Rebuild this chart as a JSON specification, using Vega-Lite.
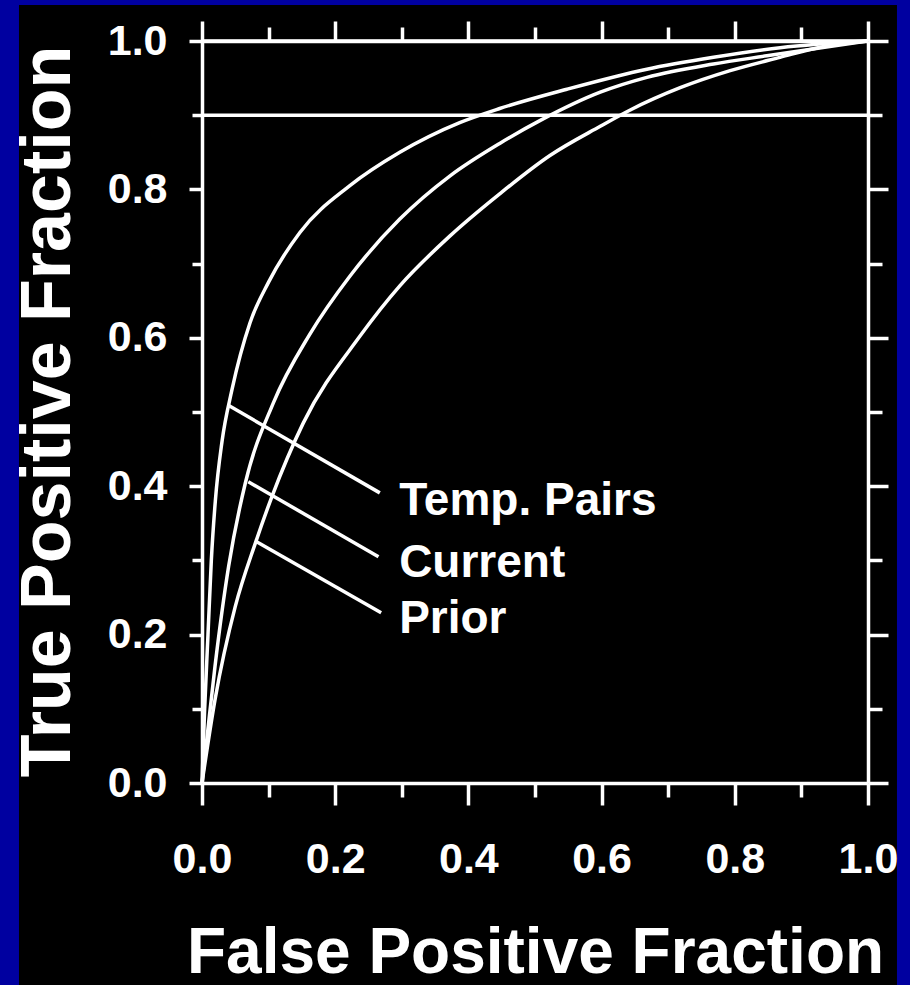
{
  "$schema": "https://vega.github.io/schema/vega-lite/v6.json",
  "width": 666,
  "height": 742,
  "autosize": {"type": "none"},
  "padding": {"left": 202, "top": 41, "right": 42, "bottom": 202},
  "background": "black",
  "config": {
    "view": {"stroke": null},
    "axis": {
      "zindex": 1,
      "domainColor": "white",
      "domainWidth": 3.5,
      "tickColor": "white",
      "tickWidth": 3.5,
      "grid": false,
      "labelColor": "white",
      "labelFont": "Liberation Sans",
      "labelFontWeight": "bold",
      "labelFontSize": 43,
      "labelOverlap": false,
      "labelFlush": false,
      "titleColor": "white",
      "titleFont": "Liberation Sans",
      "titleFontWeight": "bold"
    }
  },
  "datasets": {
    "border": [
      {"side": "left", "x0": -0.4, "x1": -0.2748, "y0": -0.4, "y1": 1.2},
      {"side": "right", "x0": 1.0435, "x1": 1.2, "y0": -0.4, "y1": 1.2},
      {"side": "top", "x0": -0.4, "x1": 1.2, "y0": 1.0485, "y1": 1.2}
    ],
    "curves": [
      {"series": "Temp. Pairs", "fpf": 0, "tpf": 0},
      {"series": "Temp. Pairs", "fpf": 0.004, "tpf": 0.1},
      {"series": "Temp. Pairs", "fpf": 0.009, "tpf": 0.2},
      {"series": "Temp. Pairs", "fpf": 0.014, "tpf": 0.3},
      {"series": "Temp. Pairs", "fpf": 0.02, "tpf": 0.38},
      {"series": "Temp. Pairs", "fpf": 0.03, "tpf": 0.46},
      {"series": "Temp. Pairs", "fpf": 0.045, "tpf": 0.53},
      {"series": "Temp. Pairs", "fpf": 0.072, "tpf": 0.62},
      {"series": "Temp. Pairs", "fpf": 0.1, "tpf": 0.675},
      {"series": "Temp. Pairs", "fpf": 0.147, "tpf": 0.742},
      {"series": "Temp. Pairs", "fpf": 0.222, "tpf": 0.805},
      {"series": "Temp. Pairs", "fpf": 0.297, "tpf": 0.85},
      {"series": "Temp. Pairs", "fpf": 0.387, "tpf": 0.89},
      {"series": "Temp. Pairs", "fpf": 0.447, "tpf": 0.909},
      {"series": "Temp. Pairs", "fpf": 0.548, "tpf": 0.935},
      {"series": "Temp. Pairs", "fpf": 0.668, "tpf": 0.962},
      {"series": "Temp. Pairs", "fpf": 0.768, "tpf": 0.978},
      {"series": "Temp. Pairs", "fpf": 0.868, "tpf": 0.991},
      {"series": "Temp. Pairs", "fpf": 1, "tpf": 1},
      {"series": "Current", "fpf": 0, "tpf": 0},
      {"series": "Current", "fpf": 0.008, "tpf": 0.065},
      {"series": "Current", "fpf": 0.0195, "tpf": 0.157},
      {"series": "Current", "fpf": 0.04, "tpf": 0.292},
      {"series": "Current", "fpf": 0.065, "tpf": 0.404},
      {"series": "Current", "fpf": 0.107, "tpf": 0.512},
      {"series": "Current", "fpf": 0.162, "tpf": 0.605},
      {"series": "Current", "fpf": 0.222, "tpf": 0.683},
      {"series": "Current", "fpf": 0.297, "tpf": 0.76},
      {"series": "Current", "fpf": 0.372, "tpf": 0.818},
      {"series": "Current", "fpf": 0.447, "tpf": 0.862},
      {"series": "Current", "fpf": 0.508, "tpf": 0.893},
      {"series": "Current", "fpf": 0.598, "tpf": 0.931},
      {"series": "Current", "fpf": 0.668, "tpf": 0.951},
      {"series": "Current", "fpf": 0.768, "tpf": 0.969},
      {"series": "Current", "fpf": 0.848, "tpf": 0.98},
      {"series": "Current", "fpf": 1, "tpf": 1},
      {"series": "Prior", "fpf": 0, "tpf": 0},
      {"series": "Prior", "fpf": 0.0195, "tpf": 0.112},
      {"series": "Prior", "fpf": 0.05, "tpf": 0.238},
      {"series": "Prior", "fpf": 0.08, "tpf": 0.323},
      {"series": "Prior", "fpf": 0.105, "tpf": 0.386},
      {"series": "Prior", "fpf": 0.152, "tpf": 0.485},
      {"series": "Prior", "fpf": 0.237, "tpf": 0.602},
      {"series": "Prior", "fpf": 0.297, "tpf": 0.67},
      {"series": "Prior", "fpf": 0.372, "tpf": 0.737},
      {"series": "Prior", "fpf": 0.447, "tpf": 0.794},
      {"series": "Prior", "fpf": 0.523, "tpf": 0.846},
      {"series": "Prior", "fpf": 0.598, "tpf": 0.885},
      {"series": "Prior", "fpf": 0.643, "tpf": 0.907},
      {"series": "Prior", "fpf": 0.718, "tpf": 0.937},
      {"series": "Prior", "fpf": 0.793, "tpf": 0.96},
      {"series": "Prior", "fpf": 0.868, "tpf": 0.978},
      {"series": "Prior", "fpf": 0.93, "tpf": 0.992},
      {"series": "Prior", "fpf": 1, "tpf": 1}
    ],
    "refs": [
      {"tpf": 0.9, "from": 0, "to": 1},
      {"tpf": 1.0, "from": 0, "to": 1}
    ],
    "leaders": [
      {"series": "Temp. Pairs", "fpf": 0.0395, "tpf": 0.509, "fpf2": 0.267, "tpf2": 0.391},
      {"series": "Current", "fpf": 0.0695, "tpf": 0.406, "fpf2": 0.265, "tpf2": 0.305},
      {"series": "Prior", "fpf": 0.082, "tpf": 0.325, "fpf2": 0.269, "tpf2": 0.2295}
    ],
    "labels": [
      {"label": "Temp. Pairs", "fpf": 0.296, "tpf": 0.361},
      {"label": "Current", "fpf": 0.296, "tpf": 0.278},
      {"label": "Prior", "fpf": 0.296, "tpf": 0.202}
    ]
  },
  "layer": [
    {
      "data": {"name": "border"},
      "mark": {"type": "rect", "fill": "#0000A0"},
      "encoding": {
        "x": {"field": "x0", "type": "quantitative", "scale": {"domain": [0, 1], "nice": false}, "axis": null},
        "x2": {"field": "x1"},
        "y": {"field": "y0", "type": "quantitative", "scale": {"domain": [0, 1], "nice": false}, "axis": null},
        "y2": {"field": "y1"}
      }
    },
    {
      "data": {"name": "curves"},
      "mark": {"type": "line", "color": "white", "strokeWidth": 3.5, "interpolate": "monotone"},
      "encoding": {
        "detail": {"field": "series"},
        "x": {
          "field": "fpf", "type": "quantitative",
          "scale": {"domain": [0, 1], "nice": false},
          "axis": {
            "orient": "bottom",
            "zindex": 2,
            "values": [0, 0.1, 0.2, 0.3, 0.4, 0.5, 0.6, 0.7, 0.8, 0.9, 1],
            "labelExpr": "round(datum.value*10)%2==0 ? format(datum.value,'.1f') : ''",
            "tickSize": {"condition": {"test": "round(datum.value*10)%2==0", "value": 22}, "value": 14},
            "labelPadding": 33,
            "title": "False Positive Fraction",
            "titleFontSize": 64,
            "titleY": 189,
            "titleBaseline": "alphabetic"
          }
        },
        "y": {
          "field": "tpf", "type": "quantitative",
          "scale": {"domain": [0, 1], "nice": false},
          "axis": {
            "orient": "left",
            "zindex": 2,
            "values": [0, 0.1, 0.2, 0.3, 0.4, 0.5, 0.6, 0.7, 0.8, 0.9, 1],
            "labelExpr": "round(datum.value*10)%2==0 ? format(datum.value,'.1f') : ''",
            "tickSize": {"condition": {"test": "round(datum.value*10)%2==0", "value": 13}, "value": 10},
            "labelPadding": 22,
            "title": "True Positive Fraction",
            "titleFontSize": 70,
            "titleAngle": -90,
            "titleX": -133,
            "titleY": 370,
            "titleAlign": "center",
            "titleBaseline": "alphabetic"
          }
        }
      }
    },
    {
      "data": {"name": "refs"},
      "mark": {"type": "rule", "color": "white", "strokeWidth": 3.5},
      "encoding": {
        "x": {
          "field": "from", "type": "quantitative",
          "scale": {"domain": [0, 1], "nice": false},
          "axis": {
            "orient": "top",
            "zindex": 2,
            "values": [0, 0.1, 0.2, 0.3, 0.4, 0.5, 0.6, 0.7, 0.8, 0.9, 1],
            "labels": false,
            "tickSize": {"condition": {"test": "round(datum.value*10)%2==0", "value": 20}, "value": 14},
            "title": null
          }
        },
        "x2": {"field": "to"},
        "y": {
          "field": "tpf", "type": "quantitative",
          "scale": {"domain": [0, 1], "nice": false},
          "axis": {
            "orient": "right",
            "zindex": 2,
            "values": [0, 0.1, 0.2, 0.3, 0.4, 0.5, 0.6, 0.7, 0.8, 0.9, 1],
            "labels": false,
            "tickSize": {"condition": {"test": "round(datum.value*10)%2==0", "value": 20}, "value": 14},
            "title": null
          }
        }
      }
    },
    {
      "data": {"name": "leaders"},
      "mark": {"type": "rule", "color": "white", "strokeWidth": 3.5},
      "encoding": {
        "x": {"field": "fpf", "type": "quantitative", "scale": {"domain": [0, 1], "nice": false}, "axis": null},
        "x2": {"field": "fpf2"},
        "y": {"field": "tpf", "type": "quantitative", "scale": {"domain": [0, 1], "nice": false}, "axis": null},
        "y2": {"field": "tpf2"}
      }
    },
    {
      "data": {"name": "labels"},
      "mark": {"type": "text", "color": "white", "font": "Liberation Sans", "fontWeight": "bold", "fontSize": 46, "align": "left", "baseline": "alphabetic"},
      "encoding": {
        "x": {"field": "fpf", "type": "quantitative", "scale": {"domain": [0, 1], "nice": false}, "axis": null},
        "y": {"field": "tpf", "type": "quantitative", "scale": {"domain": [0, 1], "nice": false}, "axis": null},
        "text": {"field": "label"}
      }
    }
  ],
  "resolve": {"axis": {"x": "independent", "y": "independent"}}
}
